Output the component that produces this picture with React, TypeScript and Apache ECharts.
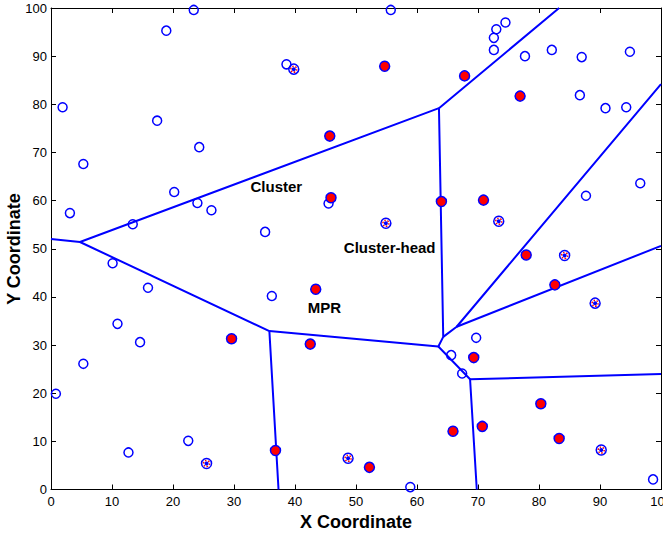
import React, { useEffect, useRef } from "react";
import * as echarts from "echarts";

// Ordinary sensor nodes (open circles)
const plainNodes: number[][] = [
  [0.8, 19.9], [3.1, 57.4], [1.9, 79.4], [5.3, 67.6], [18.9, 95.3], [23.4, 99.6],
  [17.4, 76.6], [24.3, 71.1], [13.4, 55.1], [20.2, 61.8], [24.0, 59.5], [26.3, 58.0],
  [10.1, 47.0], [15.9, 41.9], [10.9, 34.4], [14.6, 30.6], [5.3, 26.1], [12.7, 7.7],
  [22.5, 10.1], [38.6, 88.3], [55.7, 99.6], [35.1, 53.5], [36.2, 40.2], [45.5, 59.4],
  [74.5, 97.0], [73.0, 95.6], [72.6, 93.8], [72.6, 91.3], [77.7, 90.0], [82.1, 91.3],
  [87.0, 89.8], [94.9, 90.9], [86.7, 81.9], [90.9, 79.2], [94.3, 79.4], [96.6, 63.6],
  [87.7, 61.0], [69.7, 31.5], [65.6, 27.9], [67.4, 24.1], [98.7, 2.1], [58.9, 0.5],
];

// MPR nodes (red filled)
const mprNodes: number[][] = [
  [54.7, 87.9], [45.7, 73.4], [67.8, 85.9], [76.9, 81.7], [45.9, 60.6], [64.0, 59.8],
  [43.4, 41.6], [29.6, 31.3], [42.5, 30.2], [70.9, 60.1], [77.9, 48.7], [82.6, 42.5],
  [69.3, 27.4], [80.3, 17.8], [65.9, 12.1], [70.7, 13.1], [83.3, 10.6], [36.8, 8.1],
  [52.2, 4.6],
];

// Cluster heads
const headNodes: number[][] = [
  [39.8, 87.3], [54.9, 55.3], [73.4, 55.7], [84.2, 48.6], [89.2, 38.7], [90.2, 8.2],
  [48.7, 6.5], [25.5, 5.4],
];

// Cluster boundaries, as polylines
const boundaries: number[][][] = [
  [[0, 52.0], [4.75, 51.4], [63.6, 79.2], [83.3, 100]],
  [[4.75, 51.4], [35.8, 32.9], [37.3, 0]],
  [[35.8, 32.9], [63.5, 29.7], [64.3, 31.7], [63.6, 79.2]],
  [[63.5, 29.7], [68.7, 22.9], [69.8, 0]],
  [[68.7, 22.9], [100, 24.0]],
  [[64.3, 31.7], [66.5, 33.8], [100, 84.2]],
  [[66.5, 33.8], [100, 50.6]],
];

// Text annotations: [x, y, text]
const notes: [number, number, string][] = [
  [32.7, 62.9, "Cluster"],
  [48.0, 50.3, "Cluster-head"],
  [42.1, 37.8, "MPR"],
];

const xTicks = [0, 10, 20, 30, 40, 50, 60, 70, 80, 90, 100];
const yTicks = [0, 10, 20, 30, 40, 50, 60, 70, 80, 90, 100];

const BLUE = "#0000ff";
const FONT = "'Liberation Sans', Arial, Helvetica, sans-serif";

export default function App() {
  const ref = useRef<HTMLDivElement>(null);

  useEffect(() => {
    if (!ref.current) return;
    const chart = echarts.init(ref.current, undefined, { renderer: "svg" });

    const axisLine = { show: true, onZero: false, lineStyle: { color: "#000", width: 1 } };
    const axisTick = { show: true, inside: true, length: 5, lineStyle: { color: "#000", width: 1 } };
    const labelStyle = { color: "#000", fontSize: 13, fontFamily: FONT };

    const lineSeries = boundaries.map((pts) => ({
      type: "line",
      data: pts,
      symbol: "none",
      lineStyle: { color: BLUE, width: 2 },
      z: 2,
      clip: true,
    }));

    chart.setOption({
      animation: false,
      backgroundColor: "#fff",
      grid: { left: 51, right: 2, top: 8, bottom: 44.5, containLabel: false, outerBoundsMode: "none" },
      // Y axis title, centred on the plot's vertical extent
      graphic: [
        {
          type: "text",
          x: 14,
          y: 249,
          rotation: Math.PI / 2,
          style: {
            text: "Y Coordinate",
            align: "center",
            verticalAlign: "middle",
            fill: "#000",
            fontSize: 18,
            fontWeight: "bold",
            fontFamily: FONT,
          },
        },
      ],
      xAxis: [
        {
          type: "value",
          min: xTicks[0],
          max: xTicks[xTicks.length - 1],
          interval: 10,
          position: "bottom",
          name: "X Coordinate",
          nameLocation: "middle",
          nameGap: 23,
          nameTextStyle: { color: "#000", fontSize: 18, fontWeight: "bold", fontFamily: FONT },
          axisLine,
          axisTick,
          axisLabel: { ...labelStyle, margin: 5 },
          splitLine: { show: false },
        },
        {
          type: "value",
          min: 0,
          max: 100,
          interval: 10,
          position: "top",
          axisLine,
          axisTick,
          axisLabel: { show: false },
          splitLine: { show: false },
        },
      ],
      yAxis: [
        {
          type: "value",
          min: yTicks[0],
          max: yTicks[yTicks.length - 1],
          interval: 10,
          position: "left",
          axisLine,
          axisTick,
          axisLabel: { ...labelStyle, margin: 4 },
          splitLine: { show: false },
        },
        {
          type: "value",
          min: 0,
          max: 100,
          interval: 10,
          position: "right",
          axisLine,
          axisTick,
          axisLabel: { show: false },
          splitLine: { show: false },
        },
      ],
      series: [
        ...lineSeries,
        {
          type: "scatter",
          data: plainNodes,
          symbol: "circle",
          symbolSize: 9,
          itemStyle: { color: "rgba(0,0,0,0)", borderColor: BLUE, borderWidth: 1.5, opacity: 1 },
          z: 3,
        },
        {
          type: "scatter",
          data: mprNodes,
          symbol: "circle",
          symbolSize: 10,
          itemStyle: { color: "#ff0000", borderColor: BLUE, borderWidth: 1.5, opacity: 1 },
          z: 3,
        },
        {
          type: "scatter",
          data: headNodes,
          symbol: "circle",
          symbolSize: 10,
          itemStyle: { color: "rgba(0,0,0,0)", borderColor: BLUE, borderWidth: 1.5, opacity: 1 },
          z: 3,
        },
        {
          type: "scatter",
          data: headNodes,
          symbol: "circle",
          symbolSize: 6,
          itemStyle: {
            color: "rgba(0,0,0,0)",
            borderColor: "#ff0000",
            borderWidth: 1.5,
            borderType: [1.5, 1.5],
            opacity: 1,
          },
          z: 4,
        },
        {
          type: "scatter",
          data: headNodes,
          symbol: "circle",
          symbolSize: 4,
          itemStyle: { color: BLUE, opacity: 1 },
          z: 5,
        },
        {
          type: "scatter",
          data: notes.map((n) => [n[0], n[1], n[2]]),
          symbolSize: 0,
          silent: true,
          z: 6,
          itemStyle: { opacity: 1 },
          label: {
            show: true,
            position: "right",
            distance: 0,
            formatter: (p: any) => p.value[2],
            color: "#000",
            opacity: 1,
            textBorderWidth: 0,
            fontSize: 15,
            fontWeight: "bold",
            fontFamily: FONT,
          },
        },
      ],
    });

    return () => chart.dispose();
  }, []);

  return (
    <div
      ref={ref}
      style={{ position: "absolute", left: 0, top: 0, width: 663, height: 534, background: "#fff" }}
    />
  );
}
